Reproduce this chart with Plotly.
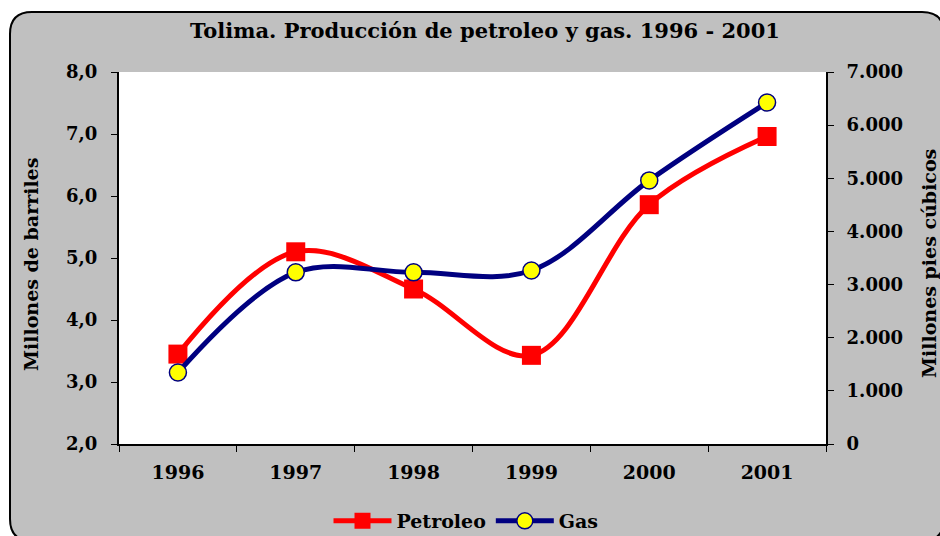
import plotly.graph_objects as go

years = ["1996", "1997", "1998", "1999", "2000", "2001"]
petroleo = [3.45, 5.10, 4.50, 3.43, 5.86, 6.96]
gas = [1345, 3230, 3230, 3265, 4960, 6425]

W, H = 940, 536
PL, PR, PT, PB = 119, 826, 72, 444
FONT = "DejaVu Serif"

def px(x):
    return (x - PL) / (PR - PL)

def py(y):
    return (PB - y) / (PB - PT)

def rounded_path(x0, y0, x1, y1, r):
    pts = [
        ("M", [(x0, y0 + r)]),
        ("Q", [(x0, y0), (x0 + r, y0)]),
        ("L", [(x1 - r, y0)]),
        ("Q", [(x1, y0), (x1, y0 + r)]),
        ("L", [(x1, y1 - r)]),
        ("Q", [(x1, y1), (x1 - r, y1)]),
        ("L", [(x0 + r, y1)]),
        ("Q", [(x0, y1), (x0, y1 - r)]),
    ]
    s = ""
    for cmd, ps in pts:
        s += cmd + " ".join(f"{px(a):.5f},{py(b):.5f}" for a, b in ps) + " "
    return s + "Z"

fig = go.Figure()
fig.add_trace(go.Scatter(
    x=years, y=petroleo, name="Petroleo", mode="lines+markers",
    line=dict(color="#FF0000", width=5, shape="spline", smoothing=1),
    marker=dict(symbol="square", size=19, color="#FF0000", line=dict(width=0)),
    yaxis="y",
))
fig.add_trace(go.Scatter(
    x=years, y=gas, name="Gas", mode="lines+markers",
    line=dict(color="#000080", width=5, shape="spline", smoothing=1),
    marker=dict(symbol="circle", size=17, color="#FFFF00", line=dict(width=1.5, color="#000080")),
    yaxis="y2",
))

tickfont = dict(family=FONT, size=18, color="black", weight="bold")
xtickfont = dict(family=FONT, size=19, color="black", weight="bold")
fig.update_layout(
    width=W, height=H,
    margin=dict(l=PL, r=W - PR, t=PT, b=H - PB, pad=0, autoexpand=False),
    paper_bgcolor="white",
    plot_bgcolor="white",
    separators=",.",
    showlegend=True,
    title=dict(text="Tolima. Producción de petroleo y gas. 1996 - 2001",
               font=dict(family=FONT, size=21, color="black", weight="bold"),
               x=485 / W, xref="container", xanchor="center",
               y=1 - 31 / H, yref="container", yanchor="middle"),
    xaxis=dict(
        type="category", range=[-0.5, 5.5], showline=True, linecolor="black", linewidth=2,
        ticks="outside", tickson="boundaries", ticklen=6, tickcolor="black",
        showgrid=False, zeroline=False, tickfont=xtickfont, ticklabelstandoff=10,
    ),
    yaxis=dict(
        range=[2, 8], dtick=1, tickformat=".1f", showline=True, linecolor="black", linewidth=2,
        ticks="outside", ticklen=6, tickcolor="black", showgrid=False, zeroline=False,
        tickfont=tickfont, ticklabelstandoff=10,
    ),
    yaxis2=dict(
        range=[0, 7000], dtick=1000, tickformat=",.0f", overlaying="y", side="right",
        showline=True, linecolor="black", linewidth=2,
        ticks="outside", ticklen=6, tickcolor="black", showgrid=False, zeroline=False,
        tickfont=tickfont, ticklabelstandoff=9,
    ),
    legend=dict(orientation="h", x=px(466), xanchor="center", y=py(521), yanchor="middle",
                font=dict(family=FONT, size=19, color="black", weight="bold"),
                bgcolor="rgba(0,0,0,0)", tracegroupgap=0, itemwidth=58),
    shapes=[
        dict(type="path", xref="paper", yref="paper", layer="below",
             path=rounded_path(10, 12, 944, 541, 22),
             fillcolor="#C0C0C0", line=dict(color="black", width=2)),
        dict(type="rect", xref="x domain", yref="y domain", layer="below",
             x0=0, x1=1, y0=0, y1=1, fillcolor="white", line=dict(width=0)),
    ],
    annotations=[
        dict(text="Millones de barriles", xref="paper", yref="paper",
             x=px(31), y=py(265), textangle=-90, showarrow=False,
             xanchor="center", yanchor="middle",
             font=dict(family=FONT, size=19, color="black", weight="bold")),
        dict(text="Millones pies cúbicos", xref="paper", yref="paper",
             x=px(929), y=py(264), textangle=-90, showarrow=False,
             xanchor="center", yanchor="middle",
             font=dict(family=FONT, size=19, color="black", weight="bold")),
    ],
)

fig.write_html("out.html", config={"displayModeBar": False},
               post_script="document.body.style.margin='0px';")
